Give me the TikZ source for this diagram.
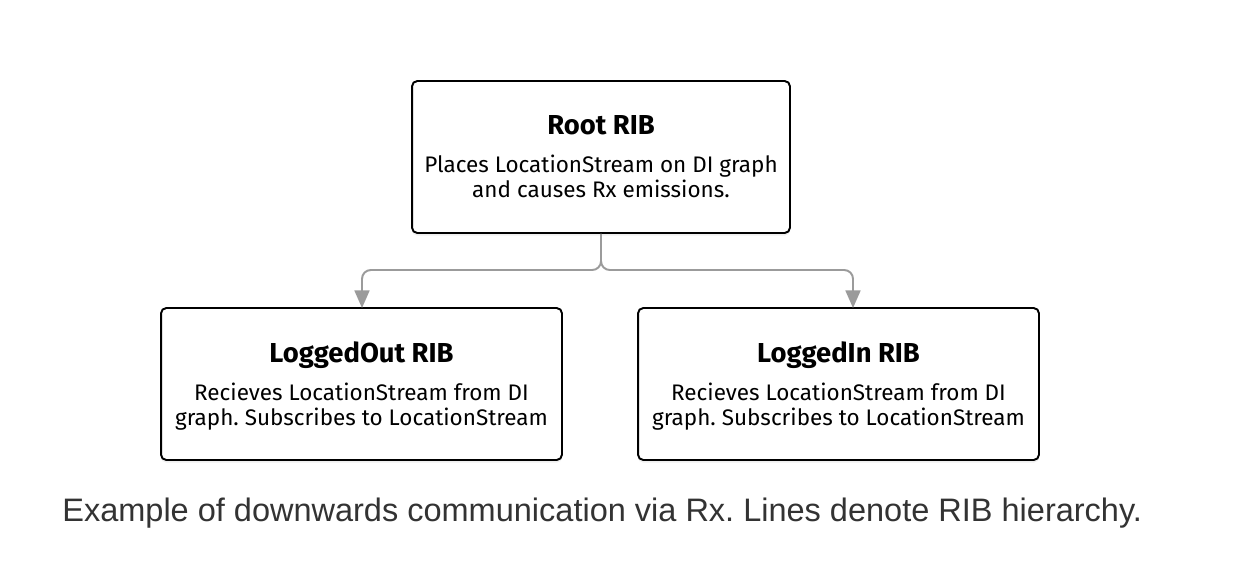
\documentclass[tikz,border=0pt]{standalone}
\usepackage{fontspec}
\setmainfont{Fira Sans}
\newfontfamily\captionfont{Liberation Sans}
\usepackage{tikz}
\usetikzlibrary{positioning,calc,arrows.meta,shadows}
\frenchspacing
\definecolor{linkgray}{HTML}{9B9B9B}
\definecolor{captiongray}{HTML}{333333}
\tikzset{
ribbox/.style={draw=black,line width=1.1pt,rounded corners=3pt,fill=white,
minimum height=3.04cm,align=center,inner sep=2pt,font=\fontsize{12.8}{14.4}\selectfont,
text depth=0.5pt,drop shadow={shadow xshift=0pt,shadow yshift=-1.5pt,opacity=0.12}},
link/.style={draw=linkgray,line width=1.1pt,rounded corners=5pt,
-{Triangle[length=10pt,width=8.5pt]}},
caption/.style={font=\captionfont\fontsize{18.5}{22}\selectfont,text=captiongray,anchor=base west,inner sep=0pt}
}
\newcommand{\ribtext}[2]{{\fontsize{15.6}{18}\selectfont\bfseries #1}\\[7.5pt]#2}
\begin{document}
\begin{tikzpicture}[x=0.02cm,y=-0.02cm]
\useasboundingbox[fill=white] (0,0) rectangle (1260,562);
\node[ribbox,minimum width=7.56cm] (root) at (601,157) {\ribtext{Root RIB}{Places LocationStream on DI graph\\and causes Rx emissions.}};
\node[ribbox,minimum width=8.02cm] (lout) at (361.5,384) {\ribtext{LoggedOut RIB}{Recieves LocationStream from DI\\graph. Subscribes to LocationStream}};
\node[ribbox,minimum width=8.02cm] (lin) at (838.5,384) {\ribtext{LoggedIn RIB}{Recieves LocationStream from DI\\graph. Subscribes to LocationStream}};
% fork of the hierarchy lines
\coordinate (fork) at (601,270);
\coordinate (loutin) at (362,308);
\coordinate (linin) at (853,308);
\draw[link] (root.south) -- (fork) -| (loutin);
\draw[link] (root.south) -- (fork) -| (linin);
\node[caption] (cap) at (62,521) {Example of downwards communication via Rx. Lines denote RIB hierarchy.};
\end{tikzpicture}
\end{document}
